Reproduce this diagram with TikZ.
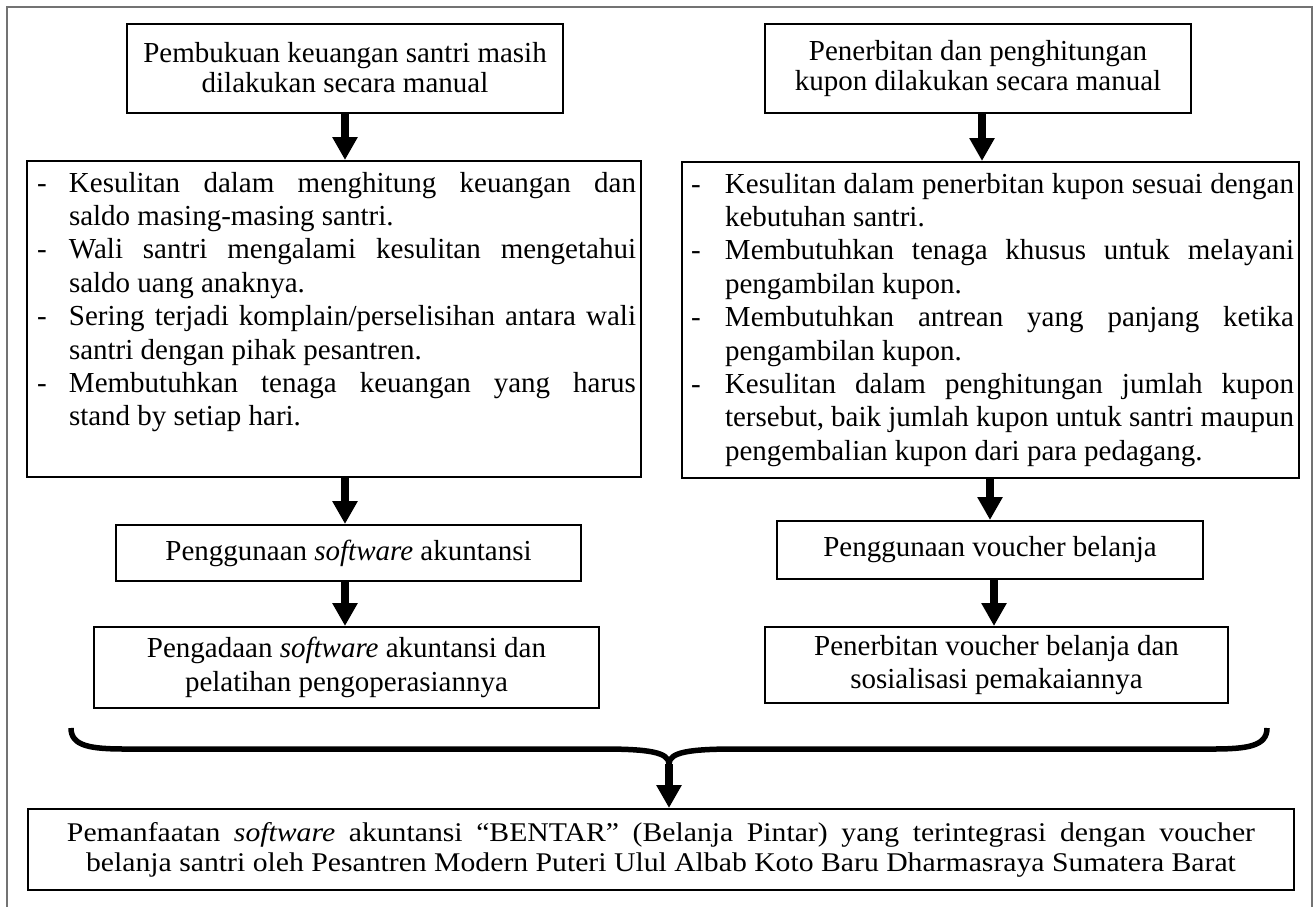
\documentclass[tikz,border=0pt]{standalone}
\usepackage{fontspec}
\setmainfont{Liberation Serif}
\usetikzlibrary{arrows.meta,calc}
\newcommand{\dshL}{\hspace*{10pt}\makebox[32pt][l]{-}}
\newcommand{\contL}{\hspace*{42pt}}
\newcommand{\jlL}[1]{\makebox[567pt][s]{#1}}
\newcommand{\dshR}{\hspace*{9pt}\makebox[34pt][l]{-}}
\newcommand{\contR}{\hspace*{43pt}}
\newcommand{\jlR}[1]{\makebox[569pt][s]{#1}}
\begin{document}
\begin{tikzpicture}[x=1pt,y=-1pt,
  box/.style={draw, line width=2pt, inner sep=0pt, align=center,
    font=\fontsize{29}{33.4}\selectfont},
  flow/.style={line width=8pt, -{Triangle[width=24pt,length=23pt]}},
  bracestyle/.style={line width=5.5pt, line join=round, line cap=butt},
  framestyle/.style={line width=1.5pt, draw=black!55}
]
\useasboundingbox (0,0) rectangle (1313,906);
\fill[white] (0,0) rectangle (1313,906);
\begin{scope}
  \clip (0,0) rectangle (1313,906);
  \draw[framestyle] (7,7) rectangle (1312,940);
\end{scope}

% top boxes
\node[box, minimum width=436pt, minimum height=89pt] (t1) at (345,68.5)
  {\raisebox{2pt}{\shortstack{Pembukuan keuangan santri masih\\dilakukan secara manual}}};
\node[box, minimum width=426pt, minimum height=89pt] (t2) at (978,68.5)
  {\raisebox{2pt}{\shortstack{Penerbitan dan penghitungan\\kupon dilakukan secara manual}}};

% list boxes
\node[box, align=left, minimum width=614pt, minimum height=316pt] (l1) at (334,319)
  {\parbox[c][294pt][t]{614pt}{%
  \dshL\jlL{Kesulitan dalam menghitung keuangan dan}\\
  \contL saldo masing-masing santri.\\
  \dshL\jlL{Wali santri mengalami kesulitan mengetahui}\\
  \contL saldo uang anaknya.\\
  \dshL\jlL{Sering terjadi komplain/perselisihan antara wali}\\
  \contL santri dengan pihak pesantren.\\
  \dshL\jlL{Membutuhkan tenaga keuangan yang harus}\\
  \contL stand by setiap hari.}};
\node[box, align=left, minimum width=617pt, minimum height=316pt] (l2) at (990.5,320)
  {\parbox[c][294pt][t]{617pt}{%
  \dshR\jlR{Kesulitan dalam penerbitan kupon sesuai dengan}\\
  \contR kebutuhan santri.\\
  \dshR\jlR{Membutuhkan tenaga khusus untuk melayani}\\
  \contR pengambilan kupon.\\
  \dshR\jlR{Membutuhkan antrean yang panjang ketika}\\
  \contR pengambilan kupon.\\
  \dshR\jlR{Kesulitan dalam penghitungan jumlah kupon}\\
  \contR\jlR{tersebut, baik jumlah kupon untuk santri maupun}\\
  \contR pengembalian kupon dari para pedagang.}};

% middle boxes
\node[box, minimum width=465pt, minimum height=56pt] (s1) at (348.5,553)
  {Penggunaan \textit{software} akuntansi};
\node[box, minimum width=426pt, minimum height=58pt] (v1) at (990,550)
  {Penggunaan voucher belanja};
\node[box, minimum width=505pt, minimum height=81pt] (s2) at (346.5,667.5)
  {Pengadaan \textit{software} akuntansi dan\\pelatihan pengoperasiannya};
\node[box, minimum width=463pt, minimum height=76pt] (v2) at (996.5,665)
  {Penerbitan voucher belanja dan\\sosialisasi pemakaiannya};

% bottom box
\node[box, minimum width=1266pt, minimum height=81pt,
  font=\fontsize{27}{30}\selectfont] (bot) at (661,849.5)
  {\scalebox{1.1}[1]{\makebox[1080pt][s]{Pemanfaatan \textit{software} akuntansi “BENTAR” (Belanja Pintar) yang terintegrasi dengan voucher}}\\
   \scalebox{1.1}[1]{belanja santri oleh Pesantren Modern Puteri Ulul Albab Koto Baru Dharmasraya Sumatera Barat}};

% brace
\coordinate (bt) at (669,764);
\draw[bracestyle] (71,728) .. controls (71,746) and (90,749) .. (126,749)
  -- (602,749) .. controls (648,749) and (669,752) .. (bt)
  .. controls (669,752) and (690,749) .. (736,749)
  -- (1212,749) .. controls (1248,749) and (1267,746) .. (1267,728);

% arrows
\draw[flow] (t1.south) -- (t1.south |- l1.north);
\draw[flow] (t1.south |- l1.south) -- (t1.south |- s1.north);
\draw[flow] (t1.south |- s1.south) -- (t1.south |- s2.north);
\draw[flow] ([xshift=4pt]t2.south) -- ([xshift=4pt]t2.south |- l2.north);
\draw[flow] (v1.north |- l2.south) -- (v1.north);
\draw[flow] ([xshift=4pt]v1.south) -- ([xshift=4pt]v1.south |- v2.north);
\draw[flow] (bt) -- (bt |- bot.north);
\end{tikzpicture}
\end{document}
